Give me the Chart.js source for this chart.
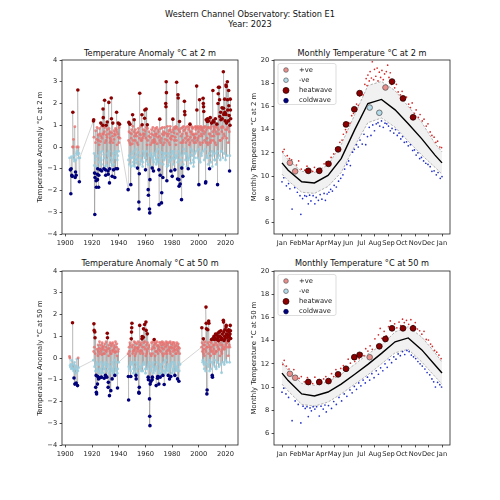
<!DOCTYPE html>
<html>
<head>
<meta charset="utf-8">
<script src="https://cdn.jsdelivr.net/npm/chart.js@4.4.0/dist/chart.umd.min.js"></script>
<style>
body { margin: 0; width: 500px; height: 500px; position: relative; overflow: hidden; background: #fff; font-family: "DejaVu Sans", sans-serif; color: #111; }
canvas { position: absolute; left: 0; top: 0; }
.ttl { position: absolute; font-size: 8.2px; line-height: 10px; text-align: center; white-space: nowrap; transform: translateX(-50%); }
</style>
</head>
<body>
<div class="ttl" style="left:250px;top:9px">Western Channel Observatory: Station E1<br>Year: 2023</div>
<div class="ttl" style="left:150px;top:48px">Temperature Anomaly °C at 2 m</div>
<div class="ttl" style="left:362px;top:48px">Monthly Temperature °C at 2 m</div>
<div class="ttl" style="left:150px;top:258px">Temperature Anomaly °C at 50 m</div>
<div class="ttl" style="left:362px;top:258px">Monthly Temperature °C at 50 m</div>
<canvas id="anom2m" width="500" height="500"></canvas>
<canvas id="month2m" width="500" height="500"></canvas>
<canvas id="anom50m" width="500" height="500"></canvas>
<canvas id="month50m" width="500" height="500"></canvas>
<script>
// ---- axes / categories
const yearTicks = [1900, 1920, 1940, 1960, 1980, 2000, 2020]
const anomTicks = [-4, -3, -2, -1, 0, 1, 2, 3, 4]
const tempTicks = [6, 8, 10, 12, 14, 16, 18, 20]
const monthNames = ['Jan', 'Feb', 'Mar', 'Apr', 'May', 'Jun', 'Jul', 'Aug', 'Sep', 'Oct', 'Nov', 'Dec', 'Jan']
const monthStarts = [0, 31, 59, 90, 120, 151, 181, 212, 243, 273, 304, 334, 365]
const midMonth = [14, 45, 74, 105, 135, 166, 196, 227, 258, 288, 319, 349]

// ---- anomaly samples: [year, samples spread through that year...]
const anom2m = [
	[1903, -0.5, -1.05], [1904, -2.15, -1.0, -0.45, -1.3], [1905, -1.35, 0.0, 1.6, 0.0],
	[1906, 0.35, -0.55, -0.4, -0.65], [1907, 0.93, -1.4, -1.15, -0.6], [1908, -1.3, -0.3, 0.0, -0.2],
	[1909, -0.35, 2.62, 0.0, -0.5], [1910, -0.3, -1.6, -0.5],
	[1921, 1.2, 1.25, 0.45, -0.3, -0.85, -1.2], [1922, -3.1, -1.4, -0.6, 0.2, 0.75, -0.45],
	[1923, -1.55, -1.85, -0.9, 0.35, 0.9, -1.25], [1924, -1.5, -1.0, -0.4, 0.55, 0.3, -1.85],
	[1925, -1.3, -0.7, 0.1, 0.85, 0.6, -0.25], [1926, -1.05, -0.5, 0.25, 1.1, 0.5, -0.6],
	[1927, -0.8, -1.1, 0.4, 0.95, -0.2, 0.6], [1928, 1.0, 1.75, 1.35, 0.6, -0.35, -1.0],
	[1929, -0.5, 0.7, 2.15, 0.9, 0.2, -0.9], [1930, -1.05, -1.3, 0.3, 1.0, 0.55, -0.85],
	[1931, -0.6, 0.45, 1.15, 0.8, -0.3, -1.1], [1932, -1.25, -0.4, 0.6, 2.05, 0.85, -0.2],
	[1933, -1.65, -1.0, 0.2, 0.7, 0.4, -0.5], [1934, -0.7, 0.3, 2.25, 1.3, 0.65, -0.85],
	[1935, -1.35, -0.6, 0.5, 1.1, 0.2, -0.3], [1936, -1.05, -0.8, 0.35, 0.75, 0.6, -0.45],
	[1937, -1.4, -0.5, 0.55, 0.85, -0.2, -1.0], [1938, -0.3, 0.8, 1.6, 0.7, 0.1, -0.6],
	[1939, -1.0, -0.4, 0.6, 1.1, 0.45, -0.2], [1940, 0.2, 0.9, 1.05, 0.4],
	[1947, -1.96, -0.6, 0.3, 1.13, 0.7, -0.4], [1948, -0.8, 0.2, 1.05, 0.65, 0.1, -0.5],
	[1949, -1.73, -0.9, 0.4, 0.6, 0.8, -0.3], [1950, -0.5, 0.15, 1.48, 0.95, 0.3, -0.7],
	[1951, -0.85, -0.2, 0.7, 1.25, 0.5, -0.45], [1952, -0.9, -0.6, 0.3, 0.8, 0.6, -0.1],
	[1953, -0.75, -0.35, 0.5, 0.65, 0.2, -0.55], [1954, -0.97, -0.6, 0.1, 0.7, 0.85, -0.25],
	[1955, -2.53, -2.85, -1.23, 0.4, 2.47, 0.6], [1956, -0.8, -0.4, 0.55, 0.95, 0.3, -0.65],
	[1957, -0.6, 0.3, 1.48, 1.02, 0.4, -0.9], [1958, -0.7, -0.2, 0.8, 0.6, 0.5, -0.4],
	[1959, -0.3, 0.6, 1.32, 1.7, 0.75, -0.5], [1960, -1.05, -0.5, 0.4, 1.75, 0.9, -0.2],
	[1961, -0.65, 0.1, 1.02, 0.85, 0.3, -0.8], [1962, -1.96, -2.22, -0.8, 0.5, 0.7, -0.35],
	[1963, -2.85, -3.03, -1.5, -0.4, 0.45, 0.1], [1964, -0.9, -0.3, 0.6, 0.8, 0.2, -0.5],
	[1965, -0.97, -0.45, 0.3, 0.9, 0.55, -0.6], [1966, -1.1, -0.7, 0.2, 0.75, 0.35, -0.3],
	[1967, -0.4, 0.25, 0.85, 0.6, 0.5, -0.55], [1968, -0.8, -0.2, 0.6, 0.9, 0.15, -0.7],
	[1969, -0.6, -0.1, 0.45, 0.8, 0.7, -0.4], [1970, -1.05, -2.65, -0.6, 0.5, 1.28, 0.3],
	[1971, -1.3, -0.75, 0.2, 0.85, 0.4, -0.25], [1972, -2.57, -2.1, -0.5, 0.6, 0.9, -0.4],
	[1973, -1.4, -0.8, 0.1, 0.7, 0.55, -0.3], [1974, -0.6, 0.2, 0.9, 0.65, 0.35, -0.5],
	[1975, -0.3, 2.0, 1.85, 3.0, 2.5, 0.6], [1976, -1.55, -0.9, 0.3, 0.95, 0.5, -0.45],
	[1977, -0.85, -0.3, 0.6, 0.75, 0.2, -0.6], [1978, -0.7, 0.1, 0.8, 0.95, 0.4, -0.35],
	[1979, -1.1, -0.6, 0.35, 0.7, 0.5, -0.2], [1980, -1.35, -0.5, 0.5, 1.28, 0.8, -0.3],
	[1981, -0.8, -0.2, 0.65, 0.9, 0.3, -0.55], [1982, -1.05, -0.4, 0.45, 0.85, 0.95, 0.1],
	[1983, -0.5, 0.3, 2.98, 0.9, 0.6, -0.4], [1984, -1.47, -0.7, 2.4, 2.25, 0.8, -0.2],
	[1985, -1.5, -1.8, -0.6, 1.17, 0.7, -0.3], [1986, -1.7, -0.9, 0.2, 0.85, 0.5, -0.6],
	[1987, -2.42, -0.97, -0.4, 0.6, 0.9, 0.2], [1988, -1.35, -0.8, 0.3, 0.95, 0.75, -0.1],
	[1989, -0.3, 2.1, 1.63, 1.48, 0.8, 0.4], [1990, -0.6, 0.2, 0.9, 0.65, 0.6, -0.3],
	[1991, -0.9, -0.4, 0.5, 0.95, 0.3, -0.5], [1992, -1.0, -0.6, 0.35, 0.8, 0.9, 0.1],
	[1993, -0.5, 0.2, 1.05, 0.7, 0.45, -0.35], [1994, -0.75, -0.1, 0.7, 0.95, 0.6, -0.2],
	[1995, -0.4, 0.3, 0.85, 0.9, 0.55, -0.6], [1996, -0.9, -0.7, 0.2, 0.6, 0.4, -0.5],
	[1997, -0.3, 0.45, 0.9, 0.95, 0.8, 0.2], [1998, -0.2, 0.6, 2.8, 1.7, 0.9, 0.3],
	[1999, -0.5, 0.4, 0.95, 0.85, 0.7, -0.1], [2000, -1.73, -0.6, 0.5, 2.17, 0.9, 0.2],
	[2001, -0.7, 0.1, 0.8, 0.95, 0.6, -0.3], [2002, -0.4, 0.5, 0.9, 0.85, 0.75, 0.2],
	[2003, -0.2, 2.24, 2.0, 1.85, 1.63, 0.6], [2004, -0.6, 0.3, 0.9, 0.95, 0.7, -0.1],
	[2005, -1.65, -1.6, 0.2, 1.25, 0.8, -0.4], [2006, -0.5, 0.4, 1.17, 1.3, 0.9, 0.1],
	[2007, -0.8, 0.2, 1.2, 0.9, 0.6, -0.3], [2008, -1.0, -0.5, 0.6, 1.35, 0.85, 0.2],
	[2009, -0.7, 0.3, 0.95, 1.1, 0.5, -0.2], [2010, -0.9, -0.4, 0.7, 2.6, 1.2, 0.3],
	[2011, -0.3, 0.5, 1.15, 0.9, 0.8, -0.6], [2012, -0.6, 0.2, 1.3, 0.95, 0.7, 0.1],
	[2013, -0.8, -0.3, 0.6, 1.05, 0.9, -0.2], [2014, -1.73, -0.5, 2.0, 2.45, 2.75, 0.8],
	[2015, -0.4, 0.6, 2.75, 2.17, 1.4, 0.3], [2016, -0.6, 0.3, 1.6, 1.25, 0.9, -0.2],
	[2017, -0.2, 0.7, 1.8, 1.3, 0.95, 0.4], [2018, -0.5, 0.9, 3.46, 1.78, 1.5, 0.6],
	[2019, -0.3, 0.5, 2.2, 1.6, 1.2, 0.8], [2020, -0.6, 1.5, 2.85, 2.78, 1.1, 0.4],
	[2021, -0.4, 0.8, 3.0, 2.17, 1.7, 0.9], [2022, 0.2, 1.2, 2.6, 1.9, 1.45, 0.7],
	[2023, -1.1, -0.4, 1.0, 2.2, 1.7, 1.3]
]
const anom50m = [
	[1903, 0.07, 0.0, -0.35, -0.42], [1904, -0.3, -0.5, -0.1], [1905, -0.45, 1.62, -0.5, -0.3],
	[1906, -0.6, -0.92, -0.2], [1907, -1.2, -0.5, -0.35, -0.7], [1908, -1.15, -0.4, -0.05, -0.55],
	[1909, -1.27, -0.6, 0.0, -0.45],
	[1921, -0.1, 0.3, 1.57, 1.27, 0.5, -0.4], [1922, 1.2, 0.93, 0.2, -0.6, -1.35, -0.3],
	[1923, -0.8, -1.58, -1.65, -0.2, 0.4, -0.5], [1924, -1.2, -0.85, 0.1, 0.6, 0.3, -0.96],
	[1925, -0.6, -0.3, 0.45, 0.75, 0.2, -0.7], [1926, -0.9, -0.5, 0.3, 0.6, 0.4, -0.2],
	[1927, -0.88, -0.6, 0.15, 0.7, 0.5, -0.4], [1928, -0.7, -0.3, 0.4, 0.55, 0.2, -0.5],
	[1929, -0.93, -0.5, 0.2, 0.65, 0.35, -0.3], [1930, -0.8, -0.2, 0.5, 0.75, 0.3, -0.6],
	[1931, -0.88, -0.4, 1.14, 0.93, 0.4, -0.3], [1932, -1.35, -1.12, 0.1, 0.6, 0.45, -0.5],
	[1933, -1.73, -0.7, 0.3, 0.7, 0.2, -0.4], [1934, -1.5, -0.6, 0.2, 0.55, 0.65, -0.2],
	[1935, -0.96, -0.5, 0.35, 0.7, 0.3, -0.6], [1936, -0.7, -0.3, 0.4, 0.6, 0.5, -0.1],
	[1937, -0.8, -0.4, 0.25, 0.75, 0.3, -0.5], [1938, -0.6, -0.2, 0.5, 0.65, 0.1, -0.7],
	[1939, -1.38, -0.5, 0.3, 0.4, -0.2],
	[1947, 0.2, -0.85, -1.93, -0.4, 0.5, 0.3], [1948, -0.5, 0.1, 0.7, 0.6, -0.3, -0.6],
	[1949, -0.85, -0.2, 0.88, 1.19, 1.39, 1.6], [1950, 0.5, -0.3, 0.2, 0.6, 0.3, -0.5],
	[1951, -0.7, -0.4, 0.35, 0.75, 0.4, -0.2], [1952, -0.6, 0.1, 0.5, 0.7, 0.2, -0.8],
	[1953, -0.96, -0.5, 0.3, 0.65, 0.45, -0.3], [1954, -0.7, -0.2, 0.4, 0.75, 0.5, -0.4],
	[1955, -1.58, -1.62, -1.35, 0.3, 1.5, 0.6], [1956, -0.5, 0.2, 0.7, 0.6, 0.35, -0.6],
	[1957, -0.4, 0.3, 0.88, 0.99, 0.5, -0.3], [1958, -0.6, 0.2, 0.95, 1.34, 0.7, -0.2],
	[1959, -0.3, 0.5, 1.54, 0.75, 0.4, -0.5], [1960, -0.7, 0.1, 1.65, 1.27, 0.6, 0.2],
	[1961, -0.5, 0.3, 1.11, 0.7, 0.4, -0.4], [1962, -0.88, -1.0, -0.3, 0.5, 0.6, -0.2],
	[1963, -1.88, -2.68, -3.11, -1.2, 0.2, -0.5], [1964, -1.08, -0.6, 0.1, 0.7, 0.4, -0.3],
	[1965, -1.0, -0.88, 0.2, 0.75, 0.5, -0.4], [1966, -0.7, -0.2, 0.6, 0.85, 0.45, -0.5],
	[1967, -0.6, 0.1, 0.7, 0.65, 0.3, -0.4], [1968, -1.27, -0.5, 0.3, 0.75, 0.55, -0.2],
	[1969, -0.93, -0.85, 0.2, 0.6, 0.4, -0.6], [1970, -1.2, -0.7, 0.5, 0.72, 0.35, -0.3],
	[1971, -0.88, -0.4, 0.3, 0.7, 0.6, -0.5], [1972, -0.7, -0.3, 0.45, 0.75, 0.2, -0.6],
	[1973, -0.8, 0.1, 0.6, 0.7, 0.4, -0.2], [1974, -1.22, -0.6, 0.2, 0.65, 0.5, -0.4],
	[1975, -0.7, -0.1, 0.55, 0.75, 0.3, -0.5], [1976, -0.6, 0.2, 0.7, 0.6, 0.35, -0.3],
	[1977, -0.8, -0.4, 0.4, 0.7, 0.5, -0.6], [1978, -0.96, -0.5, 0.3, 0.75, 0.2, -0.4],
	[1979, -0.85, -0.3, 0.5, 0.65, 0.45, -0.2], [1980, -0.7, 0.1, 0.6, 0.72, 0.3, -0.5],
	[1981, -0.6, -0.2, 0.4, 0.7, 0.5, -0.3], [1982, -0.8, -0.4, 0.35, 0.6, 0.2, -0.6],
	[1983, -0.5, 0.2, 0.55, 0.7, 0.4, -0.4], [1984, -0.96, -0.5, 0.3, 0.65, 0.5, -0.2],
	[1985, -1.07, -0.6, 0.45, 0.2, -0.3],
	[2002, 0.5, 1.39, 0.7, 0.3, -0.2], [2003, -0.1, 0.4, 0.88, 0.6, 0.2, -0.3],
	[2004, -0.5, 0.1, 0.6, 0.75, 0.4, -0.2], [2005, -0.6, 0.3, 2.34, 1.6, 1.34, 0.5],
	[2006, -1.65, -1.47, -0.3, 0.5, 1.3, 0.7], [2007, -0.4, 0.2, 1.7, 1.6, 0.6, -0.1],
	[2008, -0.6, -0.2, 0.5, 0.75, 0.4, 0.1], [2009, -0.5, 0.3, 0.7, 0.85, 0.5, -0.2],
	[2010, -0.8, -0.88, 0.3, 0.9, 0.6, 0.2], [2011, -0.3, 0.4, 1.0, 0.85, 0.6, -0.1],
	[2012, -0.4, 0.2, 0.9, 1.1, 0.7, 0.3], [2013, -0.5, 0.3, 0.85, 1.05, 0.6, -0.2],
	[2014, -0.2, 0.5, 1.15, 0.95, 0.8, 0.4], [2015, -0.4, 0.4, 1.2, 1.0, 0.7, 0.1],
	[2016, -0.3, 0.6, 0.95, 1.25, 0.85, 0.3], [2017, -0.68, 0.2, 0.9, 1.1, 0.6, 0.4],
	[2018, -0.2, 0.5, 1.73, 1.65, 1.2, 0.8], [2019, -0.3, 0.4, 1.0, 1.3, 0.9, 0.5],
	[2020, -0.1, 0.6, 1.42, 1.5, 1.1, 0.7], [2021, -0.2, 0.7, 1.25, 1.05, 0.95, 0.5],
	[2022, 0.1, 0.8, 1.3, 1.2, 1.0, 0.6], [2023, -0.2, 0.5, 1.1, 1.5, 1.25, 0.9]
]

// ---- climatology (mid-month values) and the 1 Jan value
const mean2m = [10.5, 9.5, 9.4, 10.05, 11.5, 14.0, 16.25, 16.6, 15.7, 14.5, 13.2, 11.8]
const upper2m = [11.4, 10.4, 10.3, 10.95, 12.7, 15.3, 17.8, 18.15, 17.35, 16.0, 14.6, 12.8]
const lower2m = [9.6, 8.6, 8.5, 9.1, 10.3, 12.6, 14.6, 15.0, 14.2, 13.0, 11.8, 10.75]
const jan1_2m = [11.13, 12.08, 10.16] // mean, upper, lower
const mean50m = [10.55, 9.4, 9.23, 9.57, 10.25, 11.1, 11.95, 12.9, 13.9, 14.23, 13.2, 11.9]
const upper50m = [11.45, 10.3, 10.15, 10.45, 11.1, 11.95, 12.85, 13.6, 14.75, 15.2, 14.3, 12.95]
const lower50m = [9.65, 8.5, 8.35, 8.7, 9.4, 10.25, 11.05, 12.0, 12.95, 13.25, 12.15, 10.9]
const jan1_50m = [11.2, 12.15, 10.25]

// ---- 2023 samples
const days2023 = [18, 30, 60, 85, 106, 128, 146, 165, 177, 200, 222, 236, 251, 276, 299]
const temp2m2023 = [11.14, 10.4, 10.45, 10.45, 11.05, 12.3, 14.45, 15.75, 17.14, 15.9, 15.45, 17.63, 18.14, 16.69, 15.06]
const kind2m2023 = ['+ve', '+ve', 'heatwave', 'heatwave', 'heatwave', 'heatwave', 'heatwave', 'heatwave', 'heatwave', '-ve', '-ve', '+ve', 'heatwave', 'heatwave', 'heatwave']
const temp50m2023 = [11.14, 10.8, 10.43, 10.43, 10.51, 11.09, 11.57, 12.57, 12.77, 12.57, 13.51, 14.14, 15.06, 15.06, 15.06]
const kind50m2023 = ['+ve', '+ve', 'heatwave', 'heatwave', 'heatwave', 'heatwave', 'heatwave', 'heatwave', 'heatwave', '+ve', 'heatwave', 'heatwave', 'heatwave', 'heatwave', 'heatwave']

// ---- historical extremes [day of year, temperature]
const hot2m = [[2,12.1],[5,12.3],[12,11.75],[17,11.5],[22,11.4],[33,10.95],[38,11.3],[44,10.6],[52,10.5],[57,10.85],[64,10.45],[70,10.4],[74,10.75],[80,10.55],[88,10.65],[96,11.05],[101,11.2],[107,11.15],[112,11.6],[118,11.9],[123,12.4],[127,12.45],[132,12.9],[137,13.1],[140,13.6],[145,14.0],[147,13.8],[151,14.6],[155,14.55],[159,15.2],[163,15.4],[166,15.9],[170,16.2],[174,16.1],[177,16.9],[181,17.3],[185,17.0],[189,17.9],[192,18.4],[194,17.8],[196,18.7],[199,18.2],[201,19.0],[204,18.45],[206,19.85],[209,18.3],[211,19.2],[214,18.6],[217,19.3],[219,18.2],[222,18.95],[225,18.5],[228,19.1],[231,18.3],[234,18.8],[238,19.0],[241,19.55],[244,18.5],[247,18.9],[250,17.9],[254,18.2],[257,17.6],[261,17.9],[265,17.25],[270,17.0],[274,17.3],[279,16.6],[284,16.8],[289,16.2],[293,15.9],[297,16.3],[302,15.4],[306,15.7],[311,15.05],[315,15.3],[320,14.75],[324,14.9],[329,14.3],[333,14.5],[338,13.8],[342,13.5],[347,13.35],[351,12.9],[355,13.0],[360,12.5],[364,12.45]]
const cold2m = [[0,9.5],[4,9.85],[10,9.15],[15,9.35],[18,8.9],[23,7.15],[29,9.0],[35,8.6],[41,8.3],[43,6.7],[47,8.05],[52,8.3],[56,8.25],[60,7.6],[63,8.35],[66,7.85],[71,8.3],[75,7.6],[78,8.15],[83,7.9],[87,8.4],[91,8.0],[96,8.5],[99,7.9],[103,8.45],[107,8.6],[111,8.85],[115,8.7],[119,9.2],[124,9.05],[129,9.55],[134,9.8],[139,10.1],[143,10.6],[148,11.0],[152,11.3],[156,10.9],[161,12.05],[165,12.3],[170,12.7],[174,12.5],[178,13.1],[183,12.75],[187,13.6],[191,12.7],[195,13.4],[199,14.2],[203,13.5],[207,14.4],[211,13.9],[215,14.5],[219,14.6],[223,14.3],[227,14.75],[231,14.2],[235,14.55],[239,14.5],[243,14.3],[247,13.9],[251,14.1],[255,13.7],[259,14.0],[263,13.5],[267,13.7],[271,13.2],[275,13.4],[279,12.9],[284,12.95],[288,12.6],[293,12.7],[298,12.2],[302,12.25],[306,11.8],[310,12.0],[314,11.5],[318,11.6],[323,11.3],[328,11.1],[333,11.0],[338,10.8],[342,10.4],[347,10.45],[352,10.1],[356,10.3],[361,9.8],[365,9.95]]
const hot50m = [[2,11.95],[5,12.3],[10,11.8],[16,11.55],[21,11.1],[27,11.5],[33,10.95],[39,10.75],[44,10.9],[51,10.45],[58,10.8],[64,10.35],[70,10.3],[75,10.85],[82,10.5],[88,10.4],[95,10.7],[100,10.9],[107,10.65],[113,11.15],[118,10.9],[123,11.5],[129,11.2],[134,11.6],[140,11.85],[146,11.7],[151,12.4],[156,12.05],[161,12.5],[166,12.2],[171,12.65],[176,12.45],[182,12.9],[187,12.7],[191,13.3],[196,13.1],[201,13.55],[206,13.25],[212,14.15],[217,13.6],[220,14.5],[224,15.05],[228,14.2],[233,14.8],[238,14.4],[243,15.2],[247,15.7],[252,14.9],[257,15.45],[262,15.1],[267,15.6],[271,15.3],[275,15.85],[279,15.55],[284,15.75],[289,15.4],[294,15.8],[299,15.3],[304,15.55],[309,15.0],[314,14.85],[319,14.55],[324,14.8],[329,14.1],[334,14.05],[339,13.7],[343,13.5],[348,13.15],[353,13.0],[358,12.75],[363,12.45]]
const cold50m = [[0,9.55],[4,9.9],[9,9.4],[15,9.1],[23,7.1],[30,8.8],[37,8.5],[43,6.9],[48,8.35],[53,8.15],[57,8.3],[60,7.45],[64,8.2],[67,7.95],[71,8.3],[75,8.1],[79,8.3],[85,7.5],[89,8.35],[94,8.1],[98,8.45],[101,7.85],[106,8.4],[113,8.15],[118,8.75],[124,8.5],[130,9.1],[136,8.8],[142,9.4],[148,9.2],[155,9.75],[160,9.5],[165,10.05],[170,9.8],[175,10.35],[180,10.1],[185,10.6],[190,10.35],[195,10.85],[200,10.6],[205,11.15],[210,10.8],[215,11.4],[220,11.1],[225,11.65],[230,11.4],[235,12.0],[240,11.7],[245,12.35],[250,12.1],[255,12.6],[260,12.4],[265,12.85],[270,12.7],[275,13.05],[280,12.8],[285,13.15],[290,13.05],[295,12.75],[300,12.6],[305,12.45],[310,12.2],[315,12.0],[320,11.8],[326,11.55],[331,11.25],[337,11.05],[342,10.7],[346,10.45],[350,10.0],[355,10.4],[360,10.2],[364,10.0]]

// ---- styling
const FAM = '"DejaVu Sans", sans-serif'
const INK = '#222'
const kindStyle = {
	'+ve': {fill: '#eb8f8c', edge: '#5a5a5a', r: 2.8, key: 2.3},
	'-ve': {fill: '#b3dbe9', edge: '#5a5a5a', r: 2.8, key: 2.3},
	heatwave: {fill: '#8b0000', edge: '#2a0000', r: 2.9, key: 3.0},
	coldwave: {fill: '#00007a', edge: '#00004a', r: 2.9, key: 2.3}
}
const minus = v => (v < 0 ? '\u2212' + Math.abs(v) : '' + v)

const frame = {
	id: 'frame',
	afterDraw(chart) {
		const {ctx, chartArea: a} = chart
		ctx.save()
		ctx.strokeStyle = INK
		ctx.lineWidth = 0.8
		ctx.strokeRect(a.left, a.top, a.right - a.left, a.bottom - a.top)
		ctx.restore()
	}
}

const keyBox = {
	id: 'keyBox',
	afterDatasetsDraw(chart) {
		const {ctx, chartArea: a} = chart
		const x = a.left + 4, y = a.top + 3.5, w = 58, h = 41
		ctx.save()
		ctx.fillStyle = 'rgba(255,255,255,0.85)'
		ctx.strokeStyle = '#d4d4d4'
		ctx.lineWidth = 0.8
		ctx.beginPath()
		ctx.roundRect(x, y, w, h, 2)
		ctx.fill()
		ctx.stroke()
		ctx.font = '6.8px ' + FAM
		ctx.textBaseline = 'middle'
		Object.keys(kindStyle).forEach((k, i) => {
			const st = kindStyle[k]
			const cy = y + 6.5 + i * 10.2
			ctx.beginPath()
			ctx.arc(x + 8, cy, st.key, 0, Math.PI * 2)
			ctx.fillStyle = st.fill
			ctx.fill()
			ctx.strokeStyle = st.edge
			ctx.lineWidth = 0.7
			ctx.stroke()
			ctx.fillStyle = INK
			ctx.fillText(k, x + 21, cy)
		})
		ctx.restore()
	}
}

function axisCommon() {
	return {
		grid: {display: true, drawOnChartArea: false, drawTicks: true, tickLength: 2.4, tickWidth: 0.8, tickColor: INK},
		border: {display: false},
		ticks: {font: {family: FAM, size: 6.7}, color: INK, padding: 2.4, maxRotation: 0, minRotation: 0, autoSkip: false}
	}
}

function boxLayout(area, yWidth, xHeight) {
	return {
		padding: {left: area.l - yWidth, top: area.t, right: 500 - area.r, bottom: 500 - area.b - xHeight}
	}
}

function anomalyChart(id, rows, hi, lo, label, area) {
	const pts = []
	rows.forEach(r => {
		const n = r.length - 1
		for (let i = 1; i <= n; i++) pts.push({x: r[0] + (i - 0.5) / n, y: r[i]})
	})
	const warm = pts.filter(p => p.y >= 0 && p.y < hi)
	const cool = pts.filter(p => p.y < 0 && p.y > lo)
	const heat = pts.filter(p => p.y >= hi)
	const cold = pts.filter(p => p.y <= lo)
	const dot = (data, color, r, order) => ({data, backgroundColor: color, borderWidth: 0, pointRadius: r, order})
	const xs = axisCommon(), ys = axisCommon()
	new Chart(document.getElementById(id), {
		type: 'scatter',
		data: {
			datasets: [
				{data: pts, showLine: true, borderColor: 'rgba(150,150,150,0.5)', borderWidth: 0.8, pointRadius: 0, order: 9},
				dot(cool, 'rgba(150,205,222,0.85)', 1.45, 6),
				dot(warm, 'rgba(232,112,110,0.8)', 1.45, 5),
				dot(cold, '#00007a', 1.8, 2),
				dot(heat, '#8b0000', 1.8, 1)
			]
		},
		options: {
			responsive: false, animation: false, devicePixelRatio: 1,
			layout: boxLayout(area, area.yw, 20),
			plugins: {legend: {display: false}, tooltip: {enabled: false}},
			scales: {
				x: Object.assign(xs, {
					type: 'linear', min: 1897.5, max: 2029.4,
					afterBuildTicks: s => { s.ticks = yearTicks.map(v => ({value: v})) },
					afterFit: s => { s.height = 20 },
					ticks: Object.assign(xs.ticks, {callback: v => '' + v})
				}),
				y: Object.assign(ys, {
					min: -4, max: 4,
					afterBuildTicks: s => { s.ticks = anomTicks.map(v => ({value: v})) },
					afterFit: s => { s.width = area.yw },
					ticks: Object.assign(ys.ticks, {callback: minus}),
					title: {display: true, text: label, font: {family: FAM, size: 6.9}, color: INK, padding: 0}
				})
			}
		},
		plugins: [frame]
	})
}

function monthlyChart(id, mean, upper, lower, jan1, temps, kinds, hot, cold, label, area) {
	const bandX = [0, ...midMonth, 365]
	const line = (vals, first) => bandX.map((d, i) => ({x: d, y: i === 0 || i === bandX.length - 1 ? first : vals[i - 1]}))
	const pick = k => days2023.map((d, i) => ({x: d, y: temps[i], k: kinds[i]})).filter(p => p.k === k)
	const circle = (k, order) => ({
		data: pick(k), pointRadius: kindStyle[k].r, backgroundColor: kindStyle[k].fill,
		borderColor: kindStyle[k].edge, borderWidth: 0.8, order
	})
	const xs = axisCommon(), ys = axisCommon()
	new Chart(document.getElementById(id), {
		type: 'scatter',
		data: {
			datasets: [
				{data: line(upper, jan1[1]), showLine: true, borderColor: '#a0a0a0', borderWidth: 0.8, borderDash: [2.5, 1.5], pointRadius: 0, fill: false, order: 8},
				{data: line(lower, jan1[2]), showLine: true, borderColor: '#a0a0a0', borderWidth: 0.8, borderDash: [2.5, 1.5], pointRadius: 0, fill: '-1', backgroundColor: '#f1f1f1', order: 8},
				{data: hot.map(p => ({x: p[0], y: p[1]})), pointRadius: 0.85, backgroundColor: '#d42a2a', borderWidth: 0, order: 6},
				{data: cold.map(p => ({x: p[0], y: p[1]})), pointRadius: 0.85, backgroundColor: '#2230c8', borderWidth: 0, order: 6},
				{data: line(mean, jan1[0]), showLine: true, borderColor: '#000', borderWidth: 1.4, pointRadius: 0, order: 5},
				circle('+ve', 2), circle('-ve', 2), circle('heatwave', 1)
			]
		},
		options: {
			responsive: false, animation: false, devicePixelRatio: 1,
			layout: boxLayout(area, area.yw, 20),
			plugins: {legend: {display: false}, tooltip: {enabled: false}},
			scales: {
				x: Object.assign(xs, {
					type: 'linear', min: -18.25, max: 383.25,
					afterBuildTicks: s => { s.ticks = monthStarts.map(v => ({value: v})) },
					afterFit: s => { s.height = 20 },
					ticks: Object.assign(xs.ticks, {callback: v => monthNames[monthStarts.indexOf(v)]})
				}),
				y: Object.assign(ys, {
					min: 5, max: 20,
					afterBuildTicks: s => { s.ticks = tempTicks.map(v => ({value: v})) },
					afterFit: s => { s.width = area.yw },
					ticks: Object.assign(ys.ticks, {callback: v => '' + v}),
					title: {display: true, text: label, font: {family: FAM, size: 6.9}, color: INK, padding: 0}
				})
			}
		},
		plugins: [frame, keyBox]
	})
}

anomalyChart('anom2m', anom2m, 1.0, -0.96, 'Temperature Anomaly °C at 2 m', {l: 62, t: 60, r: 238, b: 234, yw: 26})
monthlyChart('month2m', mean2m, upper2m, lower2m, jan1_2m, temp2m2023, kind2m2023, hot2m, cold2m,
	'Monthly Temperature °C at 2 m', {l: 274, t: 60, r: 450, b: 234, yw: 24})
anomalyChart('anom50m', anom50m, 0.8, -0.8, 'Temperature Anomaly °C at 50 m', {l: 62, t: 271, r: 238, b: 445, yw: 26})
monthlyChart('month50m', mean50m, upper50m, lower50m, jan1_50m, temp50m2023, kind50m2023, hot50m, cold50m,
	'Monthly Temperature °C at 50 m', {l: 274, t: 271, r: 450, b: 445, yw: 24})
</script>
</body>
</html>
